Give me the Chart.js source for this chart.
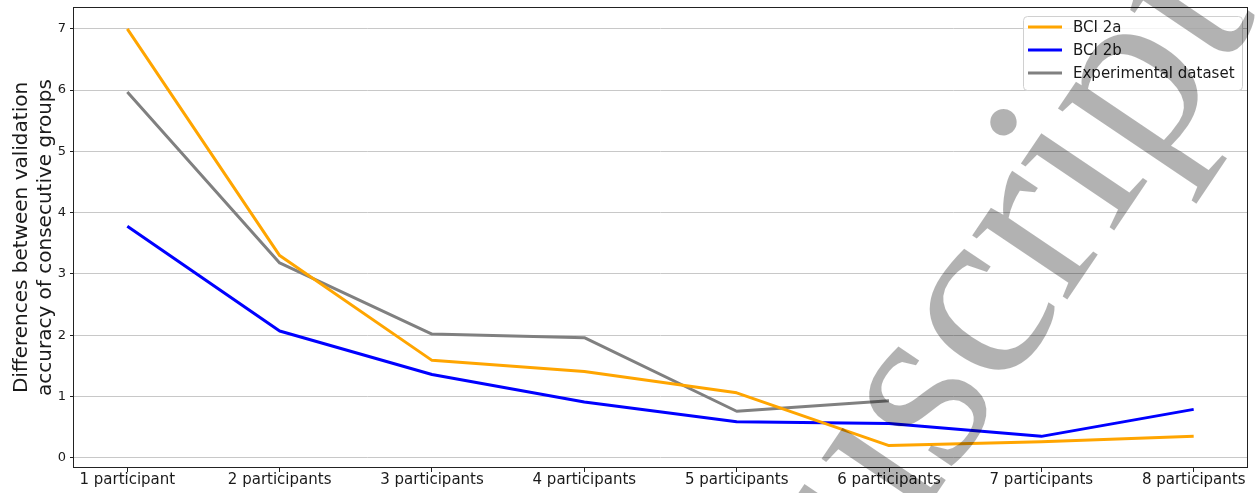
<!DOCTYPE html>
<html>
<head>
<meta charset="utf-8">
<script src="https://cdn.jsdelivr.net/npm/chart.js@4.4.1/dist/chart.umd.min.js"></script>
<style>
  html, body { margin: 0; padding: 0; background: #ffffff; overflow: hidden; }
  #wrap { width: 1256px; height: 493px; }
</style>
</head>
<body>
<div id="wrap"><canvas id="c" width="1256" height="493"></canvas></div>
<script>
// Group sizes on the x axis
const groupLabels = ['1 participant', '2 participants', '3 participants', '4 participants',
                     '5 participants', '6 participants', '7 participants', '8 participants'];

// Differences between validation accuracy of consecutive groups
const bci2a        = [7.00, 3.30, 1.59, 1.41, 1.06, 0.20, 0.26, 0.35];
const bci2b        = [3.78, 2.07, 1.36, 0.91, 0.59, 0.56, 0.35, 0.79];
const experimental = [5.97, 3.18, 2.02, 1.96, 0.76, 0.93];

const yTickValues = [0, 1, 2, 3, 4, 5, 6, 7];

const seriesNames  = ['BCI 2a', 'BCI 2b', 'Experimental dataset'];
const seriesColors = ['#FFA500', '#0000FF', '#808080'];

const FONT = 'DejaVu Sans';
const TEXT = '#1a1a1a';

const toPoints = arr => arr.map((v, i) => ({ x: i, y: v }));

// Full box around the plotting area
const framePlugin = {
  id: 'frame',
  afterDatasetsDraw(chart) {
    const { ctx, chartArea: a } = chart;
    ctx.save();
    ctx.strokeStyle = '#222';
    ctx.lineWidth = 1;
    ctx.strokeRect(Math.round(a.left) - 0.5, Math.round(a.top) - 0.5,
                   Math.round(a.right - a.left) + 1, Math.round(a.bottom - a.top) + 1);
    ctx.restore();
  }
};

// Legend box in the upper right corner of the plot
const cornerLegend = {
  id: 'cornerLegend',
  afterDraw(chart) {
    const { ctx, chartArea: a } = chart;
    const sets = chart.data.datasets;
    const w = 219, rowH = 23, h = rowH * sets.length + 5;
    const x0 = a.right - 5 - w, y0 = a.top + 8;
    ctx.save();
    ctx.beginPath();
    ctx.roundRect(x0 + 0.5, y0 + 0.5, w, h, 4);
    ctx.fillStyle = 'rgba(255,255,255,0.8)';
    ctx.fill();
    ctx.strokeStyle = '#d0d0d0';
    ctx.lineWidth = 1;
    ctx.stroke();
    ctx.font = '15px "' + FONT + '"';
    ctx.textBaseline = 'middle';
    ctx.textAlign = 'left';
    sets.forEach((ds, i) => {
      const y = y0 + 11 + i * rowH;
      ctx.beginPath();
      ctx.moveTo(x0 + 5, y);
      ctx.lineTo(x0 + 39, y);
      ctx.strokeStyle = ds.borderColor;
      ctx.lineWidth = 3;
      ctx.stroke();
      ctx.fillStyle = TEXT;
      ctx.fillText(ds.label, x0 + 50, y + 1);
    });
    ctx.restore();
  }
};

// Large translucent stamp across the right half
const stampPlugin = {
  id: 'stamp',
  afterDraw(chart) {
    const { ctx } = chart;
    ctx.save();
    ctx.translate(622, 960);
    ctx.rotate(-56 * Math.PI / 180);
    ctx.font = '250px "Liberation Serif"';
    ctx.textAlign = 'left';
    ctx.textBaseline = 'alphabetic';
    ctx.fillStyle = 'rgba(0,0,0,0.3)';
    ctx.fillText('Manuscript', 0, 0);
    ctx.restore();
  }
};

const datasets = [bci2a, bci2b, experimental].map((arr, i) => ({
  label: seriesNames[i],
  data: toPoints(arr),
  borderColor: seriesColors[i],
  backgroundColor: seriesColors[i],
  borderWidth: 3,
  pointRadius: 0,
  pointHoverRadius: 0,
  tension: 0,
  fill: false,
  borderJoinStyle: 'round',
  borderCapStyle: 'butt'
}));

new Chart(document.getElementById('c'), {
  type: 'line',
  data: { datasets },
  options: {
    responsive: false,
    animation: false,
    events: [],
    layout: { padding: { top: 8, right: 9, left: 0, bottom: 0 } },
    plugins: {
      legend: { display: false },
      tooltip: { enabled: false }
    },
    scales: {
      x: {
        type: 'linear',
        min: -0.35,
        max: 7.35,
        afterBuildTicks: s => { s.ticks = groupLabels.map((_, i) => ({ value: i })); },
        afterFit: s => { s.height = 26; s.paddingLeft = 0; s.paddingRight = 0; },
        border: { display: false },
        grid: { drawOnChartArea: false, drawTicks: true, tickLength: 5, tickColor: '#222' },
        ticks: {
          autoSkip: false,
          maxRotation: 0,
          padding: -1,
          color: TEXT,
          font: { family: FONT, size: 15 },
          callback: v => groupLabels[v]
        }
      },
      y: {
        type: 'linear',
        min: -0.15,
        max: 7.34,
        afterBuildTicks: s => { s.ticks = yTickValues.map(v => ({ value: v })); },
        afterFit: s => { s.width = 74; s.paddingTop = 0; s.paddingBottom = 0; },
        border: { display: false },
        grid: { color: '#c8c8c8', lineWidth: 1, drawTicks: true, tickLength: 4, tickColor: '#222' },
        ticks: {
          padding: 4,
          color: TEXT,
          font: { family: FONT, size: 13 }
        },
        title: {
          display: true,
          text: ['Differences between validation', 'accuracy of consecutive groups'],
          color: TEXT,
          font: { family: FONT, size: 20 },
          padding: { top: 10, bottom: 0 }
        }
      }
    }
  },
  plugins: [framePlugin, cornerLegend, stampPlugin]
});
</script>
</body>
</html>
